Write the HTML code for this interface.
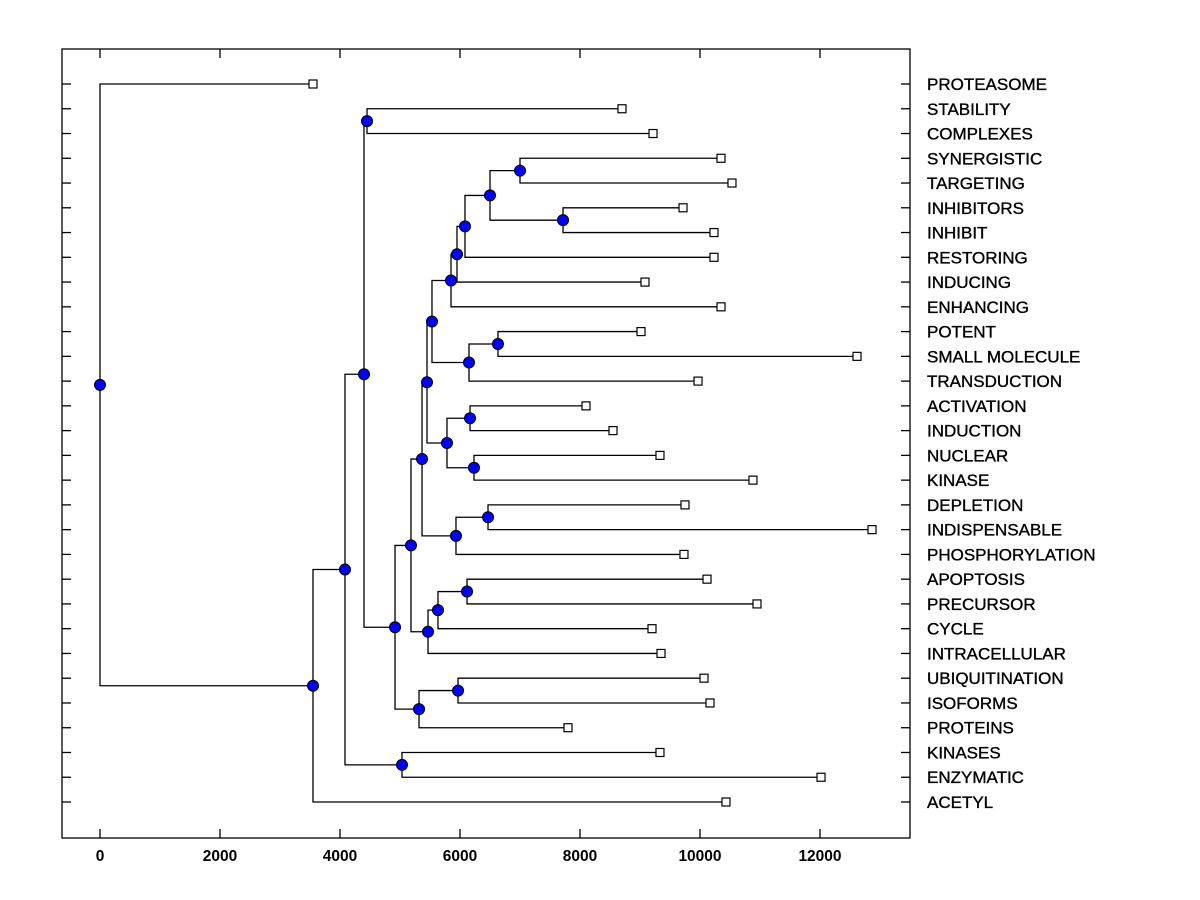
<!DOCTYPE html>
<html><head><meta charset="utf-8"><style>
html,body{margin:0;padding:0;background:#fff;}
svg{display:block;font-family:"Liberation Sans",Arial,sans-serif;}
</style></head><body>
<svg id="chart" width="1200" height="900" viewBox="0 0 1200 900">
<rect x="0" y="0" width="1200" height="900" fill="#fff"/>
<g id="g"></g>
</svg>
<script>
// leaf labels (top to bottom) and leaf values
const leafLabels = ["PROTEASOME","STABILITY","COMPLEXES","SYNERGISTIC","TARGETING","INHIBITORS","INHIBIT","RESTORING","INDUCING","ENHANCING","POTENT","SMALL MOLECULE","TRANSDUCTION","ACTIVATION","INDUCTION","NUCLEAR","KINASE","DEPLETION","INDISPENSABLE","PHOSPHORYLATION","APOPTOSIS","PRECURSOR","CYCLE","INTRACELLULAR","UBIQUITINATION","ISOFORMS","PROTEINS","KINASES","ENZYMATIC","ACETYL"];
const leafValues = [3550,8700,9217,10350,10533,9717,10233,10233,9083,10350,9017,12617,9967,8100,8550,9333,10883,9750,12867,9733,10117,10950,9200,9350,10067,10167,7800,9333,12017,10433];
// internal nodes: name, height, children (leaf index as number, node name as string)
const nodeNames   = ["root","A","B","C","KE","SC","D","UIP","UI","E","G","H","AP","F","J","DI","I","L","AI","NK","K","N","PS","M","O","P","Q","ST","INH"];
const nodeHeights = [0,3550,4083,4400,5033,4450,4917,5317,5967,5183,5467,5633,6117,5367,5933,6467,5450,5783,6167,6233,5533,6150,6633,5850,5950,6083,6500,7000,7717];
const nodeChildren = [[0,"A"],["B",29],["C","KE"],["SC","D"],[27,28],[1,2],["E","UIP"],["UI",26],[24,25],["F","G"],["H",23],["AP",22],[20,21],["I","J"],["DI",19],[17,18],["K","L"],["AI","NK"],[13,14],[15,16],["M","N"],["PS",12],[10,11],["O",9],["P",8],["Q",7],["ST","INH"],[3,4],[5,6]];
const xTicks = [0,2000,4000,6000,8000,10000,12000];

const NS="http://www.w3.org/2000/svg";
const g=document.getElementById('g');
const L=62,R=910,T=49,B=838;
const X=v=>100+v*0.06;
const Y=i=>84+i*(802-84)/29;
function mk(tag,attrs){const e=document.createElementNS(NS,tag);for(const k in attrs)e.setAttribute(k,attrs[k]);g.appendChild(e);return e;}

let f=mk('rect',{x:L,y:T,width:R-L,height:B-T,fill:'none',stroke:'#000','stroke-width':1.3});



xTicks.forEach(t=>{
  let a=mk('line',{x1:X(t),x2:X(t),y1:B,y2:B-9,stroke:'#000','stroke-width':1.3});
  
  
  let b=mk('line',{x1:X(t),x2:X(t),y1:T,y2:T+9,stroke:'#000','stroke-width':1.3});
  
  
  let tx=mk('text',{x:X(t),y:B+23,'text-anchor':'middle','font-size':15.5,'font-weight':'bold'});
  tx.textContent=t;
  
  
});

leafLabels.forEach((lab,i)=>{
  let a=mk('line',{x1:L,x2:L+9,y1:Y(i),y2:Y(i),stroke:'#000','stroke-width':1.3});
  
  
  let b=mk('line',{x1:R-9,x2:R,y1:Y(i),y2:Y(i),stroke:'#000','stroke-width':1.3});
  
  
  let tx=mk('text',{x:927,y:Y(i)+6,'font-size':17,stroke:'#000','stroke-width':0.35});
  tx.textContent=lab;
  
  
});

// compute positions
const pos={};
function posOf(c){
  if(typeof c==='number') return {x:X(leafValues[c]),y:Y(c)};
  if(pos[c]) return pos[c];
  const k=nodeNames.indexOf(c);
  const a=posOf(nodeChildren[k][0]), b=posOf(nodeChildren[k][1]);
  pos[c]={x:X(nodeHeights[k]),y:(a.y+b.y)/2};
  return pos[c];
}
nodeNames.forEach(n=>posOf(n));
// branches
nodeNames.forEach((n,k)=>{
  const p=pos[n];
  nodeChildren[k].forEach(c=>{
    const q=posOf(c);
    let pl=mk('polyline',{points:`${p.x},${p.y} ${p.x},${q.y} ${q.x},${q.y}`,fill:'none',stroke:'#000','stroke-width':1.3});
    
    
  });
});
// leaf markers
leafValues.forEach((v,i)=>{
  let r=mk('rect',{x:X(v)-4,y:Y(i)-4,width:8,height:8,fill:'#fff',stroke:'#000','stroke-width':1.2});
  
  
});
// node markers
nodeNames.forEach(n=>{
  const p=pos[n];
  let c=mk('circle',{cx:p.x,cy:p.y,r:5.5,fill:'#0000ff',stroke:'#000','stroke-width':1});
  
  
});
</script>
</body></html>
